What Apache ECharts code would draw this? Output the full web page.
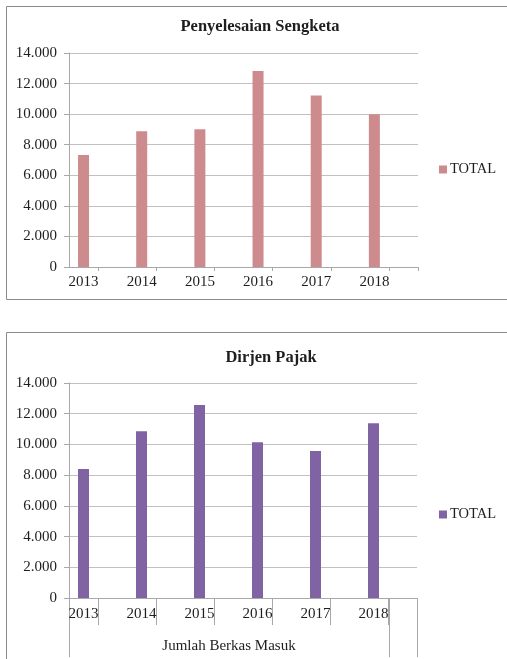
<!DOCTYPE html>
<html>
<head>
<meta charset="utf-8">
<script src="https://cdn.jsdelivr.net/npm/echarts@6/dist/echarts.min.js"></script>
<style>
  html, body { margin: 0; padding: 0; background: #ffffff; }
  #chart { width: 507px; height: 659px; }
</style>
</head>
<body>
<div id="chart"></div>
<script>
// ---- data ----
const years = ['2013', '2014', '2015', '2016', '2017', '2018'];
const sengketaTotal = [7330, 8880, 9010, 12820, 11220, 10000];
const pajakTotal = [8400, 10860, 12560, 10150, 9580, 11380];
const chartTitles = ['Penyelesaian Sengketa', 'Dirjen Pajak'];
const seriesName = 'TOTAL';
const groupLabels = ['Jumlah Berkas Masuk'];
const yMin = 0, yMax = 14000, yStep = 2000;

// ---- styling ----
const FONT = "'Liberation Serif', 'Times New Roman', serif";
const TXT = '#1e1e1e';
const GRID_C = '#c0c0c0';
const AXIS_C = '#a8a8a8';
const colTop = '#cd8b8d';
const colBottom = '#8063a2';

// each year occupies one slot followed by an empty slot (Excel-like spacing)
const slots = [];
years.forEach(y => { slots.push(y); slots.push(y + '\u200b'); });

const fmt = v => v === 0 ? '0' : String(v).replace(/\B(?=(\d{3})+(?!\d))/g, '.');

function yAxisDef(gridIndex) {
  return {
    type: 'value', gridIndex, min: yMin, max: yMax, interval: yStep,
    axisLine: { show: true, lineStyle: { color: AXIS_C } },
    axisTick: { show: true, length: 5, lineStyle: { color: AXIS_C } },
    splitLine: { show: true, lineStyle: { color: GRID_C } },
    axisLabel: { margin: 12, color: TXT, fontFamily: FONT, fontSize: 15, formatter: fmt }
  };
}
function xAxisDef(gridIndex, tickLen, labelMargin) {
  return {
    type: 'category', gridIndex, data: slots, boundaryGap: true,
    axisLine: { show: true, lineStyle: { color: AXIS_C } },
    axisTick: { show: true, length: tickLen, interval: (i) => i % 2 === 1, lineStyle: { color: AXIS_C } },
    axisLabel: { interval: (i) => i % 2 === 0, margin: labelMargin, color: TXT, fontFamily: FONT, fontSize: 15,
      formatter: v => v.replace('\u200b', '') },
    splitLine: { show: false }
  };
}

const chart = echarts.init(document.getElementById('chart'), null, { renderer: 'canvas' });
chart.setOption({
  animation: false,
  backgroundColor: '#ffffff',
  title: [
    { text: chartTitles[0], left: 260, top: 18, textAlign: 'center', padding: 0,
      textStyle: { fontFamily: FONT, fontSize: 16.5, fontWeight: 'bold', color: TXT } },
    { text: chartTitles[1], left: 271, top: 349, textAlign: 'center', padding: 0,
      textStyle: { fontFamily: FONT, fontSize: 16.5, fontWeight: 'bold', color: TXT } }
  ],
  legend: [
    { left: 439, top: 162, padding: 0, icon: 'rect', itemWidth: 8, itemHeight: 8, itemGap: 4,
      selectedMode: false,
      data: [{ name: seriesName, itemStyle: { color: colTop } }],
      textStyle: { fontFamily: FONT, fontSize: 14.5, color: TXT, padding: [0, 0, 0, -2] } },
    { left: 439, top: 507, padding: 0, icon: 'rect', itemWidth: 8, itemHeight: 8, itemGap: 4,
      selectedMode: false,
      data: [{ name: seriesName, itemStyle: { color: colBottom } }],
      textStyle: { fontFamily: FONT, fontSize: 14.5, color: TXT, padding: [0, 0, 0, -2] } }
  ],
  grid: [
    { left: 69, top: 53, width: 349, height: 214, containLabel: false },
    { left: 69, top: 383, width: 348, height: 215, containLabel: false },
    { left: 69, top: 383, width: 320, height: 215, containLabel: false }
  ],
  xAxis: [
    xAxisDef(0, 4, 8),
    xAxisDef(1, 27, 9),
    {
      type: 'category', gridIndex: 2, data: groupLabels, boundaryGap: true,
      axisLine: { show: false },
      axisTick: { show: true, length: 59, lineStyle: { color: AXIS_C } },
      axisLabel: { margin: 41, color: TXT, fontFamily: FONT, fontSize: 15 },
      splitLine: { show: false }
    }
  ],
  yAxis: [
    yAxisDef(0),
    yAxisDef(1),
    { type: 'value', gridIndex: 2, show: false, min: 0, max: 1 }
  ],
  series: [
    { name: seriesName, type: 'bar', xAxisIndex: 0, yAxisIndex: 0, barWidth: 11,
      itemStyle: { color: colTop },
      data: years.map((y, i) => [y, sengketaTotal[i]]) },
    { name: seriesName, type: 'bar', xAxisIndex: 1, yAxisIndex: 1, barWidth: 11,
      itemStyle: { color: colBottom },
      data: years.map((y, i) => [y, pajakTotal[i]]) }
  ],
  graphic: [
    { type: 'rect', silent: true, z: -1,
      shape: { x: 6.5, y: 6.5, width: 530, height: 293 },
      style: { fill: 'none', stroke: '#8a8a8a', lineWidth: 1 } },
    { type: 'rect', silent: true, z: -1,
      shape: { x: 6.5, y: 332.5, width: 530, height: 340 },
      style: { fill: 'none', stroke: '#8a8a8a', lineWidth: 1 } },
    { type: 'line', silent: true,
      shape: { x1: 417.5, y1: 598, x2: 417.5, y2: 657 },
      style: { stroke: AXIS_C, lineWidth: 1 } }
  ]
});
</script>
</body>
</html>
